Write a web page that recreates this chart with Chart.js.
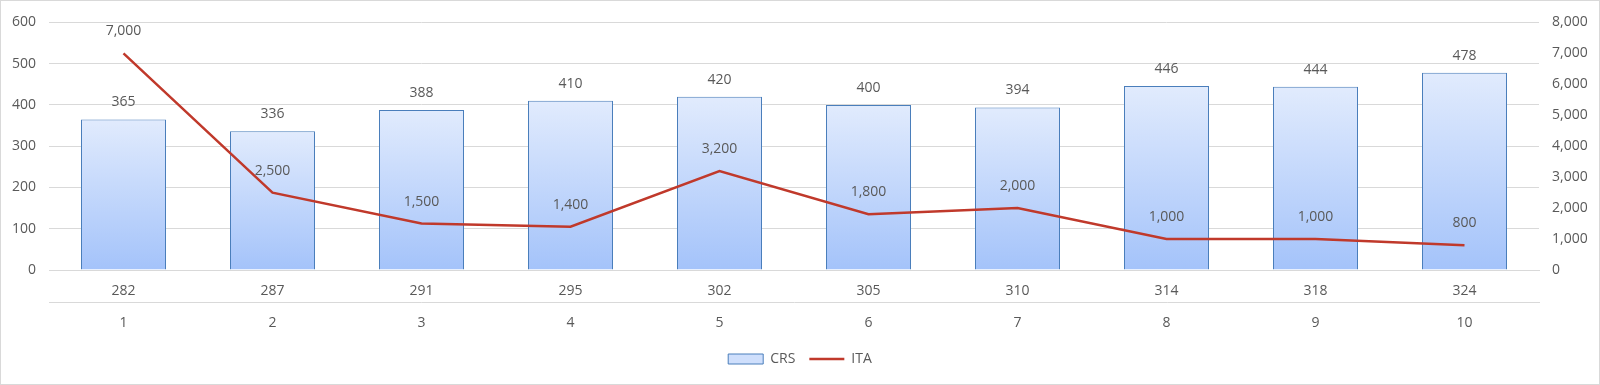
<!DOCTYPE html>
<html>
<head>
<meta charset="utf-8">
<script src="https://cdn.jsdelivr.net/npm/chart.js@4/dist/chart.umd.min.js"></script>
<style>
  html, body { margin: 0; padding: 0; background: #fff; }
  #wrap { width: 1598px; height: 383px; border: 1px solid #d9d9d9; position: relative; }
</style>
</head>
<body>
<div id="wrap"><canvas id="chart" width="1598" height="383"></canvas></div>
<script>
// values
const groupLabels = ["282", "287", "291", "295", "302", "305", "310", "314", "318", "324"];
const indexLabels = ["1", "2", "3", "4", "5", "6", "7", "8", "9", "10"];
const crsValues = [365, 336, 388, 410, 420, 400, 394, 446, 444, 478];
const itaValues = [7000, 2500, 1500, 1400, 3200, 1800, 2000, 1000, 1000, 800];

const TEXT = "#595959";
const GRID = "#d9d9d9";
const FONT = "'Open Sans', 'Noto Sans', sans-serif";
const BAR_TOP = "#e1ebfd";
const BAR_BOTTOM = "#a4c3fa";
const BAR_EDGE = "#4a7ebb";
const LINE_RED = "#c0392b";

Chart.defaults.font.family = FONT;
Chart.defaults.font.size = 14;
Chart.defaults.color = TEXT;

function fmt(n) {
  return Number(n).toLocaleString("en-US");
}

// per-bar vertical gradient, light at the top and darker at the base
function barFill(ctx) {
  const chart = ctx.chart;
  if (!chart.chartArea || ctx.raw === undefined) return BAR_TOP;
  const y = chart.scales.y;
  const top = y.getPixelForValue(ctx.raw);
  const base = y.getPixelForValue(0);
  const g = chart.ctx.createLinearGradient(0, top, 0, base);
  g.addColorStop(0, BAR_TOP);
  g.addColorStop(1, BAR_BOTTOM);
  return g;
}

/* ---------- value labels over bars and points ---------- */
const valueLabels = {
  id: "valueLabels",
  afterDatasetsDraw(chart) {
    const ctx = chart.ctx;
    ctx.save();
    ctx.font = "14px " + FONT;
    ctx.fillStyle = TEXT;
    ctx.textAlign = "center";
    ctx.textBaseline = "middle";
    chart.data.datasets.forEach((ds, i) => {
      const meta = chart.getDatasetMeta(i);
      const lift = ds.type === "bar" ? 17 : 22;
      meta.data.forEach((el, j) => {
        ctx.fillText(fmt(ds.data[j]), el.x, el.y - lift);
      });
    });
    ctx.restore();
  }
};

const canvas = document.getElementById("chart");
new Chart(canvas.getContext("2d"), {
  data: {
    labels: groupLabels,
    datasets: [
      {
        type: "bar",
        label: "CRS",
        data: crsValues,
        yAxisID: "y",
        backgroundColor: barFill,
        borderColor: BAR_EDGE,
        borderWidth: 1,
        barPercentage: 85 / 149,
        categoryPercentage: 1,
        order: 1
      },
      {
        type: "line",
        label: "ITA",
        data: itaValues,
        yAxisID: "y1",
        borderColor: LINE_RED,
        borderWidth: 2.5,
        pointRadius: 0,
        tension: 0,
        order: 0
      }
    ]
  },
  options: {
    responsive: false,
    animation: false,
    layout: { padding: { left: 0, right: 0, top: 5, bottom: 8 } },
    plugins: {
      tooltip: { enabled: false },
      legend: {
        position: "bottom",
        labels: {
          usePointStyle: true,
          pointStyleWidth: 35,
          boxHeight: 10,
          padding: 14,
          color: TEXT,
          font: { size: 14 },
          generateLabels: () => [
            { text: "CRS", fillStyle: "#cfdffc", strokeStyle: BAR_EDGE, lineWidth: 1, pointStyle: "rect", datasetIndex: 0, fontColor: TEXT },
            { text: "ITA", fillStyle: LINE_RED, strokeStyle: LINE_RED, lineWidth: 2.5, pointStyle: "line", datasetIndex: 1, fontColor: TEXT }
          ]
        }
      }
    },
    scales: {
      x: {
        type: "category",
        position: "bottom",
        weight: 0,
        grid: { display: false, drawTicks: false },
        border: { display: true, color: GRID, width: 1 },
        ticks: { padding: 13, maxRotation: 0 },
        afterFit: (s) => { s.height = 32; }
      },
      x2: {
        type: "category",
        position: "bottom",
        labels: indexLabels,
        weight: 1,
        offset: true,
        grid: { display: false, drawTicks: false },
        border: { display: true, color: GRID, width: 1 },
        ticks: { padding: 13, maxRotation: 0 },
        afterFit: (s) => { s.height = 36; }
      },
      y: {
        position: "left",
        min: 0,
        max: 600,
        ticks: { stepSize: 100, padding: 13 },
        grid: { color: GRID, drawTicks: false },
        border: { display: false },
        afterFit: (s) => { s.width = 48; }
      },
      y1: {
        position: "right",
        min: 0,
        max: 8000,
        ticks: { stepSize: 1000, padding: 13, callback: (v) => fmt(v) },
        grid: { display: false, drawTicks: false },
        border: { display: false },
        afterFit: (s) => { s.width = 60; }
      }
    }
  },
  plugins: [valueLabels]
});
</script>
</body>
</html>
